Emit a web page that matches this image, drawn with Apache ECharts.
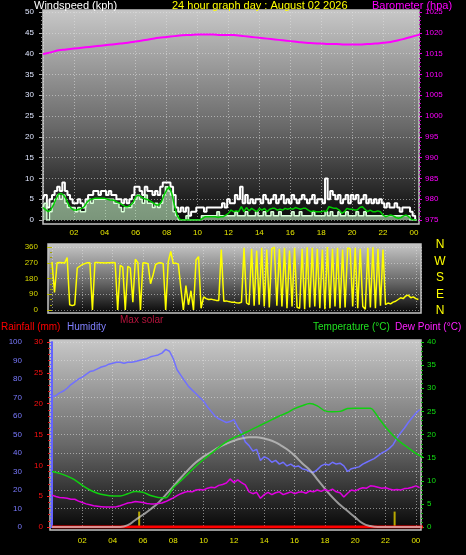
<!DOCTYPE html>
<html><head><meta charset="utf-8">
<script src="https://cdn.jsdelivr.net/npm/echarts@6/dist/echarts.min.js"></script>
<style>html,body{margin:0;padding:0;background:#000;}#c{width:466px;height:555px;}</style>
</head><body><div id="c"></div>
<script>
// ---------- tick labels ----------
const xTickValues = [2,4,6,8,10,12,14,16,18,20,22,24];
const xTickLabels = ['02','04','06','08','10','12','14','16','18','20','22','00'];
const dirLabels = ['N','W','S','E','N'];

// ---------- wind (10-minute samples, from 00:00) ----------
const windStepHours = 1/6;
const windGust = [
 5,6,3,5,6,7, 8,7,9,7,6,5, 4,4,5,4,3,5, 6,6,7,7,6,7, 7,6,7,6,6,5, 5,4,5,4,5,6,
 8,8,7,6,8,7, 7,6,7,6,8,9, 9,9,8,6,3,2, 3,2,3,1,2,2, 3,3,3,2,3,3, 3,3,3,3,4,3,
 5,4,4,6,5,8, 4,6,4,5,4,5, 5,4,6,5,4,5, 6,4,5,6,4,5, 4,6,5,4,5,6, 5,4,5,6,4,5,
 5,4,10,5,7,6, 5,6,4,5,6,4, 6,5,6,4,5,6, 4,5,4,5,4,5, 4,3,4,3,3,4, 3,2,3,3,3,2,
 1,0];
const windSpeed = [
 3,4,0,2,4,5, 6,5,6,4,3,3, 3,2,3,2,2,4, 5,4,5,5,5,5, 5,5,5,5,4,4, 3,2,3,3,3,4,
 5,6,5,4,6,4, 4,3,4,3,4,6, 8,7,6,2,1,0, 0,0,1,0,0,0, 0,0,1,1,1,1, 1,1,2,1,1,1,
 1,1,1,2,1,1, 1,2,1,1,1,2, 1,1,2,1,1,2, 1,1,2,1,1,1, 1,2,1,1,2,1, 1,1,1,2,1,1,
 1,1,2,1,2,1, 1,2,1,1,2,1, 1,1,2,1,1,2, 1,1,1,1,1,1, 1,1,1,1,1,1, 1,1,1,1,1,0,
 0,0];
const windAvg = [
 3,2.5,2,2.5,3.5,5, 6.2,6.4,6.0,5.0,3.6,2.8, 2.4,2.4,2.6,2.8,3.2,4.2, 4.8,5.0,5.2,5.2,5.2,5.2,
 5.2,5.0,4.8,4.8,4.6,4.2, 4.0,3.6,3.2,3.2,3.6,4.2, 5.6,6.0,5.6,5.2,5.0,4.8, 4.4,4.0,3.6,3.6,4.4,6.0,
 7.2,8.0,6.4,3.6,1.2,0.2, 0,0,0,0,0,0, 0,0,0.4,0.8,0.8,0.8, 0.8,0.8,0.6,0.8,0.8,1.2,
 1.6,2.4,2.0,2.2,2.0,3.2, 2.0,3.0,2.2,2.8,2.4,2.0, 2.8,2.4,2.8,2.0,2.6,2.8, 2.8,2.4,2.6,2.4,2.8,2.6,
 2.8,2.6,3.0,2.8,2.6,2.8, 2.8,2.4,2.0,2.2,2.0,2.0, 2.0,2.2,2.0,3.2,3.0,2.8, 2.8,2.4,1.6,2.0,2.8,2.6,
 2.6,2.4,2.4,3.0,3.2,2.6, 2.0,2.4,2.0,2.0,2.2,2.0, 1.2,0.8,1.0,1.2,1.0,0.6, 0.4,0.6,1.0,1.2,0.8,0.2,
 0,0];
const windDir = [
 275,100,270,272,270,268, 300,30,25,30,240,250, 260,265,270,270,0,272, 272,270,270,268,270,270,
 272,270,0,255,245,0, 250,240,45,290,270,0, 270,268,265,150,200,260, 268,270,265,0,275,335,
 265,268,262,125,0,140, 30,110,0,286,305,10, 75,65,60,62,58,55, 55,345,50,52,48,45,
 45,42,40,44,355,40, 30,350,25,340,30,355, 20,345,15,350,360,25, 350,20,355,10,340,20,
 355,15,10,350,5,358, 15,355,20,350,10,345, 5,360,10,350,20,355, 10,345,15,355,350,20,
 355,10,350,20,5,355, 15,358,10,350,25,345, 30,40,35,45,50,60, 70,65,80,85,70,75,
 65,60];

// ---------- barometer / temperature / solar / rain (30-minute samples) ----------
const halfHourStep = 0.5;
const barometer = [1014.9,1015.3,1015.8,1016.0,1016.2,1016.4,1016.6,1016.8,1017.0,1017.2,1017.4,1017.6,
 1017.9,1018.2,1018.5,1018.8,1019.0,1019.2,1019.4,1019.5,1019.6,1019.6,1019.6,1019.5,1019.5,1019.4,
 1019.2,1019.0,1018.8,1018.6,1018.4,1018.2,1018.0,1017.8,1017.6,1017.5,1017.4,1017.3,1017.3,1017.2,
 1017.2,1017.2,1017.3,1017.4,1017.6,1017.8,1018.2,1018.7,1019.2,1019.7];
const temperature = [12.0,11.6,11.0,10.2,9.0,8.0,7.3,6.9,6.7,6.7,7.2,7.7,7.5,6.8,6.4,6.3,8.5,10.0,11.6,13.2,
 14.6,15.9,17.2,18.4,19.3,20.0,20.8,21.6,22.4,23.2,24.0,24.7,25.6,26.2,26.7,26.2,25.1,24.9,25.0,25.6,
 25.7,25.7,25.7,23.8,21.6,19.8,18.3,17.1,15.9,15.0];
const maxSolar = [0,0,0,0,0,0,0,0,0,0,10,38,66,96,130,174,220,266,310,350,380,405,430,450,466,478,485,485,
 478,466,446,420,386,345,308,258,208,160,120,86,52,20,5,0,0,0,0,0,0,0];
const rainfall = [0,0,0,0,0,0,0,0,0,0,0,0,0,0,0,0,0,0,0,0,0,0,0,0,0,0,0,0,0,0,0,0,0,0,0,0,0,0,0,0,0,0,0,0,0,0,0,0,0,0];
const rainMarkHours = [5.75, 22.6];
const rainMarkValues = [2.5, 2.5];

// ---------- humidity / dew point (15-minute samples) ----------
const quarterStep = 0.25;
const humidity = [70.5,71,72.5,73.5, 75,77,78.5,80, 81,82.5,84,84.5, 85.5,86.5,87,88, 88.5,89,89,88.5,
 89,89,89.5,90, 90.5,91,92,92.5, 93,94,96,95, 91,85,82,79, 76,74,72,70, 68,65,62.5,60, 58.5,57.5,56.5,57,
 58,54,51,46, 44,41,42,36, 38,37,35,36, 34,35,33,34, 32.5,33,31.5,31, 30,29.5,31,33, 34,33.5,35,34,
 34.5,33,30,31.5, 32,32.5,34,35, 36,37,38.5,40, 41,42.5,44.5,48, 51,53.5,56.5,59, 61.5,63.5];
const dewPoint = [6.9,6.6,6.4,6.3, 6.2,6.0,6.0,5.6, 5.3,5.0,4.8,4.6, 4.5,4.4,4.3,4.3, 4.3,4.4,4.6,4.9,
 5.2,5.3,5.5,5.4, 5.3,5.1,5.0,5.0, 5.1,5.2,5.5,5.9, 6.3,6.8,7.2,7.5, 7.7,7.6,8.0,8.1, 8.0,8.4,8.6,8.5,
 9.0,9.2,9.5,10.4, 9.6,10.2,9.6,9.1, 7.6,7.2,7.5,6.2, 7.0,7.5,7.0,7.4, 7.6,7.0,7.3,7.6, 7.2,7.5,7.6,7.3,
 7.8,7.6,8.0,7.7, 8.1,7.8,8.2,7.6, 7.4,6.5,7.3,8.0, 7.8,8.2,8.5,8.4, 8.9,8.8,8.6,8.4, 8.5,8.2,8.0,8.1,
 8.0,8.3,8.4,8.6, 8.9,8.5];

// ---------- build ----------
const pairs = (arr, step) => arr.map((v, i) => [i * step, v]);
const FONT = 'Arial, "Liberation Sans", sans-serif';
const plain = v => String(v);
const tickFmt = v => { const i = xTickValues.indexOf(Math.round(v)); return i >= 0 && Math.abs(v - Math.round(v)) < 1e-6 ? xTickLabels[i] : ''; };
const bg = () => new echarts.graphic.LinearGradient(0, 0, 0, 1, [{offset: 0, color: '#c8c8c8'}, {offset: 0.55, color: '#686868'}, {offset: 1, color: '#050505'}]);
const dotted = {show: true, lineStyle: {color: 'rgba(225,225,225,0.55)', type: [1, 2], width: 1}};

const chart = echarts.init(document.getElementById('c'), null, {renderer: 'canvas'});
const xBase = (gi, show) => ({
  type: 'value', gridIndex: gi, min: 0, max: 24.34, interval: 2,
  axisLine: {show: false}, axisTick: {show: false},
  axisLabel: {show: show, color: '#e6e600', fontSize: 8, fontFamily: FONT, margin: 10, formatter: tickFmt},
  splitLine: dotted
});
const option = {
  backgroundColor: '#000',
  animation: false,
  grid: [
    {left: 43, top: 12, width: 376, height: 208},
    {left: 52, top: 247, width: 369, height: 63},
    {left: 52, top: 342, width: 369, height: 185}
  ],
  xAxis: [
    Object.assign(xBase(0, true), {max: 24.33, axisLabel: {show: true, color: '#e6e600', fontSize: 8, fontFamily: FONT, margin: 9, formatter: tickFmt}}),
    xBase(1, false),
    xBase(2, true)
  ],
  yAxis: [
    {type: 'value', gridIndex: 0, position: 'left', min: 0, max: 50, interval: 5,
     axisLine: {show: false}, axisTick: {show: true, length: 4, lineStyle: {color: '#a8a8a8'}},
     minorTick: {show: true, splitNumber: 5, length: 2, lineStyle: {color: '#909090'}},
     axisLabel: {color: '#dfe6ff', fontSize: 8, fontFamily: FONT, margin: 9, formatter: plain},
     splitLine: dotted},
    {type: 'value', gridIndex: 0, position: 'right', min: 975, max: 1025, interval: 5,
     axisLine: {show: false}, axisTick: {show: true, length: 3, lineStyle: {color: '#e000e0'}},
     minorTick: {show: true, splitNumber: 5, length: 2, lineStyle: {color: '#c000c0'}},
     axisLabel: {color: '#ff00ff', fontSize: 8, fontFamily: FONT, margin: 6, formatter: plain},
     splitLine: {show: false}},
    {type: 'value', gridIndex: 1, position: 'left', offset: 4, min: 0, max: 360, interval: 90,
     axisLine: {show: false}, axisTick: {show: true, length: 5, lineStyle: {color: '#b8b800'}},
     minorTick: {show: true, splitNumber: 3, length: 2, lineStyle: {color: '#a0a000'}},
     axisLabel: {color: '#d8d800', fontSize: 8, fontFamily: FONT, margin: 10, formatter: plain},
     splitLine: dotted},
    {type: 'value', gridIndex: 2, position: 'left', offset: 22, min: 0, max: 100, interval: 10,
     axisLine: {show: true, lineStyle: {color: '#6464ff', width: 2}},
     axisTick: {show: true, length: 3, lineStyle: {color: '#6464ff'}},
     minorTick: {show: true, splitNumber: 5, length: 2, lineStyle: {color: '#6464ff'}},
     axisLabel: {color: '#7a7aff', fontSize: 8, fontFamily: FONT, margin: 8, formatter: plain},
     splitLine: dotted},
    {type: 'value', gridIndex: 2, position: 'left', offset: 2, min: 0, max: 30, interval: 5,
     axisLine: {show: false}, axisTick: {show: true, length: 3, lineStyle: {color: '#ff2020'}},
     minorTick: {show: true, splitNumber: 5, length: 2, lineStyle: {color: '#d01010'}},
     axisLabel: {color: '#ff1010', fontSize: 8, fontFamily: FONT, margin: 7, formatter: plain},
     splitLine: {show: false}},
    {type: 'value', gridIndex: 2, position: 'right', min: 0, max: 40, interval: 5,
     axisLine: {show: false}, axisTick: {show: true, length: 3, lineStyle: {color: '#10d010'}},
     minorTick: {show: true, splitNumber: 5, length: 2, lineStyle: {color: '#10b010'}},
     axisLabel: {color: '#10e010', fontSize: 8, fontFamily: FONT, margin: 6, formatter: plain},
     splitLine: {show: false}},
    {type: 'value', gridIndex: 2, show: false, min: 0, max: 1000}
  ],
  graphic: [
    {type: 'rect', z: -10, shape: {x: 43, y: 10, width: 376, height: 214}, style: {fill: bg(), stroke: '#c4c4c4', lineWidth: 1.5}},
    {type: 'rect', z: -10, shape: {x: 48, y: 244, width: 373, height: 69}, style: {fill: bg(), stroke: '#c4c4c4', lineWidth: 1.5}},
    {type: 'rect', z: -10, shape: {x: 50, y: 340, width: 371, height: 190}, style: {fill: bg(), stroke: '#c4c4c4', lineWidth: 1.5}},
    {type: 'text', z: 100, x: 34, y: 6, style: {text: 'Windspeed (kph)', fill: '#ffffff', font: '11px ' + FONT, textVerticalAlign: 'middle'}},
    {type: 'text', z: 100, x: 172, y: 6, style: {text: '24 hour graph day : August 02 2026', fill: '#ffff00', font: '11px ' + FONT, textVerticalAlign: 'middle'}},
    {type: 'text', z: 100, x: 372, y: 6, style: {text: 'Barometer (hpa)', fill: '#ff00ff', font: '11px ' + FONT, textVerticalAlign: 'middle'}},
    {type: 'text', z: 100, x: 1, y: 327, style: {text: 'Rainfall (mm)', fill: '#ff0000', font: '10px ' + FONT, textVerticalAlign: 'middle'}},
    {type: 'text', z: 100, x: 67, y: 327, style: {text: 'Humidity', fill: '#8080ff', font: '10px ' + FONT, textVerticalAlign: 'middle'}},
    {type: 'text', z: 100, x: 120, y: 320, style: {text: 'Max solar', fill: '#b4143c', font: '10px ' + FONT, textVerticalAlign: 'middle'}},
    {type: 'text', z: 100, x: 313, y: 327, style: {text: 'Temperature (°C)', fill: '#20e020', font: '10px ' + FONT, textVerticalAlign: 'middle'}},
    {type: 'text', z: 100, x: 395, y: 327, style: {text: 'Dew Point (°C)', fill: '#ff20ff', font: '10px ' + FONT, textVerticalAlign: 'middle'}}
  ].concat(dirLabels.map((t, i) => ({type: 'text', z: 100, x: 440, y: 245 + i * 16.5,
      style: {text: t, fill: '#ffff00', font: '12px ' + FONT, textAlign: 'center', textVerticalAlign: 'middle'}}))),
  series: [
    {name: 'Barometer', type: 'line', xAxisIndex: 0, yAxisIndex: 1, data: pairs(barometer, halfHourStep), smooth: true,
     showSymbol: false, lineStyle: {color: '#ff00ff', width: 2}, z: 3},
    {name: 'Gust', type: 'line', xAxisIndex: 0, yAxisIndex: 0, data: pairs(windGust, windStepHours), step: 'middle',
     showSymbol: false, lineStyle: {color: '#ffffff', width: 2}, z: 3},
    {name: 'Wind speed', type: 'line', xAxisIndex: 0, yAxisIndex: 0, data: pairs(windSpeed, windStepHours), step: 'middle',
     showSymbol: false, lineStyle: {color: '#d8ffd8', width: 1.5}, areaStyle: {color: 'rgba(200,245,200,0.85)'}, z: 4},
    {name: 'Average wind', type: 'line', xAxisIndex: 0, yAxisIndex: 0, data: pairs(windAvg, windStepHours),
     showSymbol: false, lineStyle: {color: '#00cc00', width: 1.5}, z: 5},
    {name: 'Wind direction', type: 'line', xAxisIndex: 1, yAxisIndex: 2, data: pairs(windDir, windStepHours),
     showSymbol: false, lineStyle: {color: '#ffff00', width: 1.5}, z: 3},
    {name: 'Humidity', type: 'line', xAxisIndex: 2, yAxisIndex: 3, data: pairs(humidity, quarterStep),
     showSymbol: false, lineStyle: {color: '#7070ff', width: 1.5}, z: 3},
    {name: 'Rainfall', type: 'line', xAxisIndex: 2, yAxisIndex: 4, data: pairs(rainfall, halfHourStep),
     showSymbol: false, lineStyle: {color: '#ff0000', width: 3}, z: 3},
    {name: 'Rain rate', type: 'bar', xAxisIndex: 2, yAxisIndex: 4, data: rainMarkHours.map((h, i) => [h, rainMarkValues[i]]),
     barWidth: 2, itemStyle: {color: '#b8a800'}, z: 3},
    {name: 'Max solar', type: 'line', xAxisIndex: 2, yAxisIndex: 6, data: pairs(maxSolar, halfHourStep), smooth: true,
     showSymbol: false, lineStyle: {color: 'rgba(205,205,205,0.7)', width: 2}, z: 4},
    {name: 'Temperature', type: 'line', xAxisIndex: 2, yAxisIndex: 5, data: pairs(temperature, halfHourStep), smooth: 0.3,
     showSymbol: false, lineStyle: {color: '#10d010', width: 1.5}, z: 5},
    {name: 'Dew Point', type: 'line', xAxisIndex: 2, yAxisIndex: 5, data: pairs(dewPoint, quarterStep),
     showSymbol: false, lineStyle: {color: '#e000e0', width: 1.5}, z: 5}
  ]
};
chart.setOption(option);
</script></body></html>
